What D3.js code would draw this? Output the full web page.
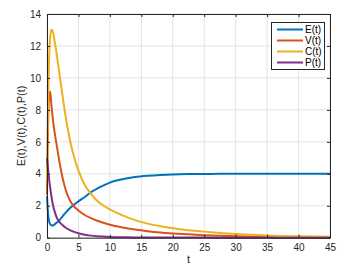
<!DOCTYPE html>
<html><head><meta charset="utf-8">
<script src="https://cdn.jsdelivr.net/npm/d3@7"></script>
<style>
html,body{margin:0;padding:0;background:#fff;}
svg{display:block;font-family:"Liberation Sans",Arial,Helvetica,sans-serif;}
</style></head>
<body>
<svg id="chart" width="357" height="275"></svg>
<script>
const tValues = [0,0.1,0.2,0.3,0.5,0.7,0.8,1,1.25,1.5,2,2.5,3,3.5,4,5,6,7,8,9,10,12,14,16,18,20,22.5,25,27.5,30,35,40,45];
const E = [2.6,1.9,1.4,1.1,0.85,0.78,0.77,0.78,0.85,0.93,1.1,1.35,1.58,1.8,1.97,2.27,2.55,2.85,3.08,3.28,3.45,3.66,3.8,3.88,3.93,3.96,3.98,3.99,4.0,4.0,4.0,4.0,4.0];
const V = [2.7,5.5,7.5,8.6,9.15,8.3,7.9,7.2,6.5,5.9,4.7,3.7,2.95,2.45,2.1,1.7,1.42,1.22,1.06,0.93,0.81,0.64,0.51,0.41,0.33,0.27,0.21,0.16,0.12,0.09,0.05,0.03,0.02];
const C = [3.6,6.5,9.0,10.8,12.5,13.0,13.02,12.8,12.2,11.6,10.2,8.8,7.5,6.4,5.5,4.2,3.3,2.75,2.3,2.0,1.78,1.4,1.1,0.88,0.72,0.59,0.47,0.38,0.3,0.23,0.14,0.09,0.06];
const P = [5.0,4.6,4.2,3.8,3.15,2.6,2.35,1.95,1.6,1.3,0.98,0.78,0.62,0.5,0.41,0.28,0.19,0.13,0.09,0.07,0.05,0.03,0.02,0.015,0.01,0.008,0.006,0.005,0.004,0.003,0.002,0.001,0.0];
const seriesNames = ["E(t)","V(t)","C(t)","P(t)"];
const seriesColors = ["#0072BD","#D95319","#EDB120","#7E2F8E"];
const xTicks = [0,5,10,15,20,25,30,35,40,45];
const yTicks = [0,2,4,6,8,10,12,14];
const xLabel = "t";
const yLabel = "E(t),V(t),C(t),P(t)";

const svg = d3.select("#chart");
const L = 47, R = 330, T = 14, B = 237.7;
const x = d3.scaleLinear().domain([0,45]).range([L,R]);
const y = d3.scaleLinear().domain([0,14]).range([B,T]);
const axisColor = "#262626";

// grid
const g = svg.append("g");
g.selectAll(".gx").data(xTicks).enter().append("line")
  .attr("x1",d=>x(d)).attr("x2",d=>x(d)).attr("y1",T).attr("y2",B)
  .attr("stroke","#e3e3e3").attr("stroke-width",1);
g.selectAll(".gy").data(yTicks).enter().append("line")
  .attr("y1",d=>y(d)).attr("y2",d=>y(d)).attr("x1",L).attr("x2",R)
  .attr("stroke","#e3e3e3").attr("stroke-width",1);

// lines
const series = [E,V,C,P];
const line = d3.line().x((d,i)=>x(tValues[i])).y(d=>y(d)).curve(d3.curveMonotoneX);
series.forEach((s,k)=>{
  svg.append("path").datum(s).attr("d",line).attr("fill","none")
    .attr("stroke",seriesColors[k]).attr("stroke-width",2).attr("stroke-linejoin","round");
});

// axes (box with inward ticks)
const tl = 3;
const axB = svg.append("g").attr("transform",`translate(0,${B})`)
  .call(d3.axisBottom(x).tickValues(xTicks).tickSizeInner(-tl).tickSizeOuter(0).tickPadding(6));
const axT = svg.append("g").attr("transform",`translate(0,${T})`)
  .call(d3.axisTop(x).tickValues(xTicks).tickSizeInner(-tl).tickSizeOuter(0).tickFormat(""));
const axL = svg.append("g").attr("transform",`translate(${L},0)`)
  .call(d3.axisLeft(y).tickValues(yTicks).tickSizeInner(-tl).tickSizeOuter(0).tickPadding(6));
const axR = svg.append("g").attr("transform",`translate(${R},0)`)
  .call(d3.axisRight(y).tickValues(yTicks).tickSizeInner(-tl).tickSizeOuter(0).tickFormat(""));
[axB,axT,axL,axR].forEach(a=>{
  a.selectAll("path").attr("stroke",axisColor).attr("stroke-width",1);
  a.selectAll("line").attr("stroke",axisColor);
  a.selectAll("text").attr("fill",axisColor).style("font-size","10px").style("font-family","'Liberation Sans',Arial,sans-serif");
});

// labels
svg.append("text").attr("x",(L+R)/2).attr("y",263).attr("text-anchor","middle")
  .attr("fill",axisColor).style("font-size","11px").text(xLabel);
svg.append("text").attr("transform",`translate(25,${(T+B)/2}) rotate(-90)`)
  .attr("text-anchor","middle").attr("fill",axisColor).style("font-size","11px").text(yLabel);

// legend
const lg = svg.append("g");
lg.append("rect").attr("x",271.5).attr("y",22.5).attr("width",53).attr("height",47)
  .attr("fill","#fff").attr("stroke",axisColor).attr("stroke-width",1);
seriesNames.forEach((n,i)=>{
  const yy = 29.5 + i*11;
  lg.append("line").attr("x1",277).attr("x2",303).attr("y1",yy).attr("y2",yy)
    .attr("stroke",seriesColors[i]).attr("stroke-width",2);
  lg.append("text").attr("x",305).attr("y",yy).attr("dy","0.35em")
    .attr("fill","#000").style("font-size","10px").text(n);
});
</script>
</body></html>
